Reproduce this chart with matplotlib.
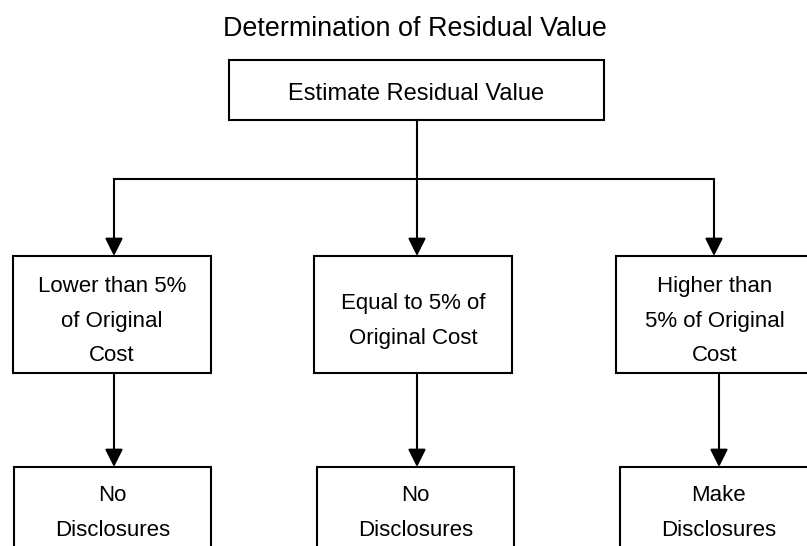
import matplotlib.pyplot as plt
from matplotlib.patches import Rectangle

plt.rcParams['font.family'] = ['Liberation Sans', 'DejaVu Sans']

# 文本内容
title = "Determination of Residual Value"
root_label = ["Estimate Residual Value"]
condition_labels = [["Lower than 5%", "of Original", "Cost"],
                    ["Equal to 5% of", "Original Cost"],
                    ["Higher than", "5% of Original", "Cost"]]
outcome_labels = [["No", "Disclosures"],
                  ["No", "Disclosures"],
                  ["Make", "Disclosures"]]

# 布局（像素坐标）
root_box = (229, 60, 375, 60)          # x, y, w, h
cond_x = [13, 314, 616]
cond_y, cond_w, cond_h = 256, 198, 117
cond_arrow_x = [114, 417, 714]
out_x = [14, 317, 620]
out_y, out_w, out_h = 467, 197, 120
out_arrow_x = [114, 417, 719]
branch_y = 179
line_gap = 34.5

fig = plt.figure(figsize=(8.07, 5.46), dpi=100)
ax = fig.add_axes([0, 0, 1, 1])
ax.set_xlim(0, 807)
ax.set_ylim(546, 0)
ax.axis('off')


def box(x, y, w, h):
    ax.add_patch(Rectangle((x, y), w, h, facecolor='white', edgecolor='black', lw=1.5))


def arrow(x0, y0, x1, y1):
    ax.annotate('', xy=(x1, y1), xytext=(x0, y0),
                arrowprops=dict(arrowstyle='-|>', mutation_scale=27, lw=1.5,
                                color='black', shrinkA=0, shrinkB=0))


def label(lines, cx, first_base, size):
    for i, s in enumerate(lines):
        ax.text(cx, first_base + i * line_gap, s, ha='center', va='baseline', fontsize=size)


# 标题
ax.text(415, 36, title, ha='center', va='baseline', fontsize=19.4)

# 顶部方框
rx, ry, rw, rh = root_box
box(rx, ry, rw, rh)
label(root_label, rx + rw / 2, 100, 17)

# 分支线
ax.plot([cond_arrow_x[1], cond_arrow_x[1]], [ry + rh, branch_y], color='black', lw=1.5)
ax.plot([cond_arrow_x[0], cond_arrow_x[-1]], [branch_y, branch_y], color='black', lw=1.5,
        solid_capstyle='projecting')

for i, lines in enumerate(condition_labels):
    ax_x = cond_arrow_x[i]
    arrow(ax_x, branch_y, ax_x, cond_y)
    box(cond_x[i], cond_y, cond_w, cond_h)
    mid = cond_y + cond_h / 2 + 4
    first = mid - ((len(lines) - 1) * line_gap - 16) / 2
    label(lines, cond_x[i] + cond_w / 2, first, 16)

for i, lines in enumerate(outcome_labels):
    arrow(out_arrow_x[i], cond_y + cond_h, out_arrow_x[i], out_y)
    box(out_x[i], out_y, out_w, out_h)
    label(lines, out_x[i] + out_w / 2, out_y + 34, 16)

fig.savefig('out.png', dpi=100)
